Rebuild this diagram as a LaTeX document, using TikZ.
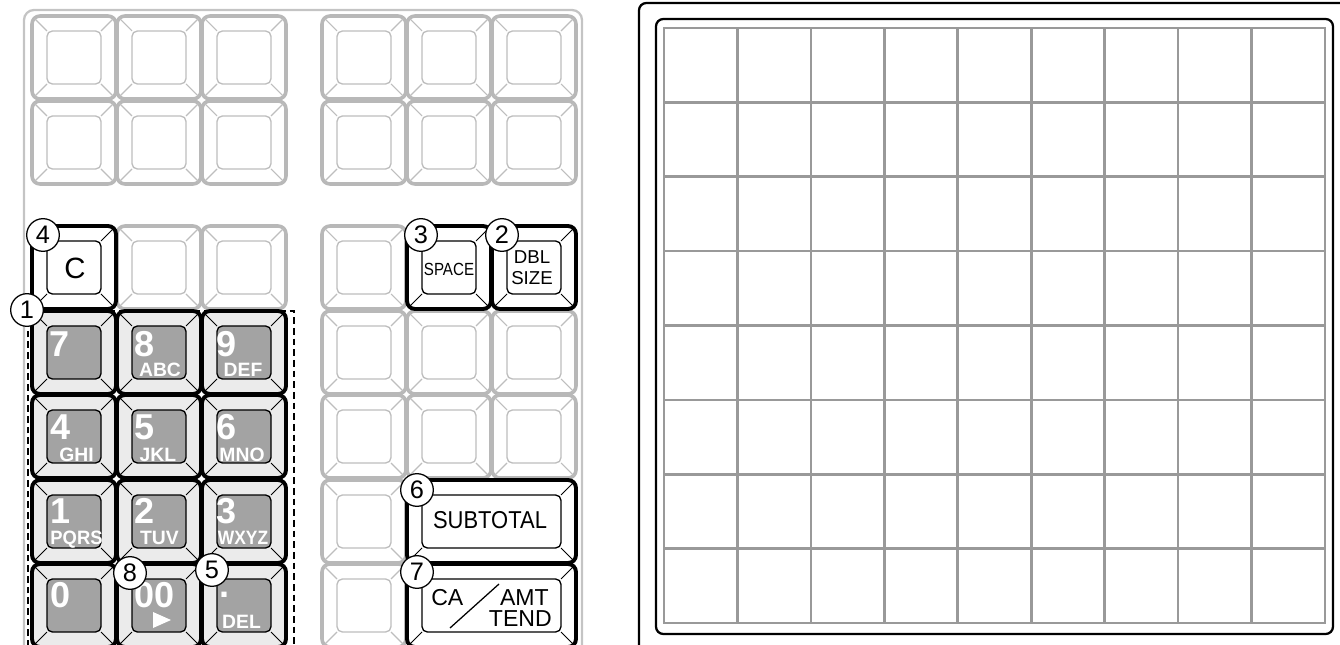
\documentclass[tikz,border=0pt]{standalone}
\usepackage{fontspec}
\setmainfont{Liberation Sans}
\definecolor{keyg}{HTML}{B8B8B8}
\definecolor{keygi}{HTML}{BEBEBE}
\definecolor{numfill}{HTML}{EBEBEB}
\definecolor{numin}{HTML}{A3A3A3}
\definecolor{gridg}{HTML}{999999}
\definecolor{frameg}{HTML}{C4C4C4}
\newcommand\kfs[1]{\fontsize{#1}{#1}\selectfont}
\newcommand\kbkey[7]{%
  \begin{scope}[shift={(#4,#5)}]
    \path[#1] (0,0) rectangle (#6,#7);
    \draw[#3] (2.5,2.5) -- (15,15) (#6-2.5,2.5) -- (#6-15,15)
      (2.5,#7-2.5) -- (15,#7-15) (#6-2.5,#7-2.5) -- (#6-15,#7-15);
    \path[#2] (15,15) rectangle (#6-15,#7-15);
  \end{scope}}
\tikzset{
  gout/.style={draw=keyg, line width=2.7pt, rounded corners=6pt, fill=white},
  gin/.style={draw=keygi, line width=1pt, rounded corners=4pt, fill=white},
  gdiag/.style={draw=keygi, line width=0.8pt},
  bout/.style={draw=black, line width=2.9pt, rounded corners=6pt, fill=white},
  bin/.style={draw=black, line width=1pt, rounded corners=4pt, fill=white},
  bdiag/.style={draw=black, line width=0.75pt},
  nout/.style={bout, fill=numfill},
  nin/.style={bin, fill=numin},
  gframe/.style={draw=frameg, line width=1.7pt, rounded corners=7.5pt},
  pline/.style={draw=black, line width=1.7pt, rounded corners=5.5pt},
  gridline/.style={draw=gridg, line width=2pt},
  dashbox/.style={draw=black, line width=0.8pt, dash pattern=on 5pt off 3pt},
  circnum/.style={circle, draw=black, line width=0.95pt, fill=white, minimum size=24.5pt,
    inner sep=0pt, font=\kfs{19}},
  digit/.style={anchor=base west, inner sep=0pt, text=white, font=\kfs{27}\bfseries},
  letters/.style={anchor=base, inner sep=0pt, text=white, font=\kfs{14.5}\bfseries},
  keytext/.style={inner sep=0pt, text=black},
}
\begin{document}
\begin{tikzpicture}[x=0.75pt, y=-0.75pt]
\useasboundingbox (0,0) rectangle (1340,645);
\clip (0,0) rectangle (1340,645);
% ---------- left keyboard ----------
\draw[gframe] (24,700) -- (24,10) -- (582,10) -- (582,700);
\draw[dashbox] (28,700) -- (28,311) -- (294,311) -- (294,700);
% gray blank keys
\foreach \kx/\ky in {32/16,117/16,202/16,322/16,407/16,492/16,
                     32/101,117/101,202/101,322/101,407/101,492/101,
                     117/226,202/226,322/226,
                     322/311,407/311,492/311,
                     322/395,407/395,492/395,
                     322/480,322/564}
  {\kbkey{gout}{gin}{gdiag}{\kx}{\ky}{84}{83}}
% black keys
\kbkey{bout}{bin}{bdiag}{32}{226}{84}{83}
\kbkey{bout}{bin}{bdiag}{407}{226}{84}{83}
\kbkey{bout}{bin}{bdiag}{492}{226}{84}{83}
\kbkey{bout}{bin}{bdiag}{407}{480}{169}{83}
\kbkey{bout}{bin}{bdiag}{407}{564}{169}{83}
% numeric keys
\foreach \kx/\ky in {32/311,117/311,202/311,32/395,117/395,202/395,
                     32/480,117/480,202/480,32/564,117/564,202/564}
  {\kbkey{nout}{nin}{bdiag}{\kx}{\ky}{84}{83}}
% key labels
\node[keytext, font=\kfs{22}] (tC) at (75,268) {C};
\node[keytext, font=\kfs{13.2}] (tSPACE) at (449,269) {\scalebox{0.86}[1]{SPACE}};
\node[keytext, anchor=base, font=\kfs{14}] (tDBL) at (532,264) {DBL};
\node[keytext, anchor=base, font=\kfs{14}] (tSIZE) at (532,285) {SIZE};
\node[keytext, anchor=base, font=\kfs{18.3}] (tSUB) at (490,528) {\scalebox{0.9}[1]{SUBTOTAL}};
\node[keytext, anchor=base west, font=\kfs{17.3}] (tCA) at (431,605) {CA};
\node[keytext, anchor=base east, font=\kfs{17.3}] (tAMT) at (549,605) {AMT};
\node[keytext, anchor=base east, font=\kfs{17.3}] (tTEND) at (552,626) {TEND};
\draw[black, line width=0.95pt] (450,628) -- (499,584);
% digits
\node[digit] (d7) at (49,357) {7};
\node[digit] (d8) at (134,357) {8};
\node[digit] (d9) at (216,357) {9};
\node[digit] (d4) at (50,440) {4};
\node[digit] (d5) at (134,440) {5};
\node[digit] (d6) at (216,440) {6};
\node[digit] (d1) at (50,523) {1};
\node[digit] (d2) at (134,523) {2};
\node[digit] (d3) at (216,523) {3};
\node[digit] (d0) at (50,607) {0};
\node[digit] (d00) at (134,607) {00};
\node[digit] (ddot) at (219,597) {.};
\node[letters] (lABC) at (160,377) {ABC};
\node[letters] (lDEF) at (243,377) {DEF};
\node[letters] (lGHI) at (76.5,461) {GHI};
\node[letters] (lJKL) at (158,461) {JKL};
\node[letters] (lMNO) at (242,461) {MNO};
\node[letters] (lPQRS) at (76.5,544) {\scalebox{0.95}[1]{PQRS}};
\node[letters] (lTUV) at (159.5,544) {TUV};
\node[letters] (lWXYZ) at (243,544) {\scalebox{0.9}[1]{WXYZ}};
\node[letters] (lDEL) at (241.5,628) {DEL};
\fill[white] (153,612) -- (153,628) -- (171,620) -- cycle;
% circled numbers
\node[circnum] (c4) at (43,235) {4};
\node[circnum] (c1) at (27,310) {1};
\node[circnum] (c3) at (421,235) {3};
\node[circnum] (c2) at (502,235) {2};
\node[circnum] (c8) at (130,573) {8};
\node[circnum] (c5) at (212,570) {5};
\node[circnum] (c6) at (417,490) {6};
\node[circnum] (c7) at (417,572) {7};
% ---------- right panel ----------
\draw[pline] (639,700) -- (639,3) -- (1400,3);
\draw[pline] (656,19) rectangle (1333,634);
\foreach \i in {1,...,8}
  \draw[gridline] ({664+\i*73.444},28) -- ({664+\i*73.444},623);
\foreach \j in {1,...,7}
  \draw[gridline] (664,{28+\j*74.375}) -- (1325,{28+\j*74.375});
\draw[gridline] (664,28) rectangle (1325,623);
\end{tikzpicture}
\end{document}
